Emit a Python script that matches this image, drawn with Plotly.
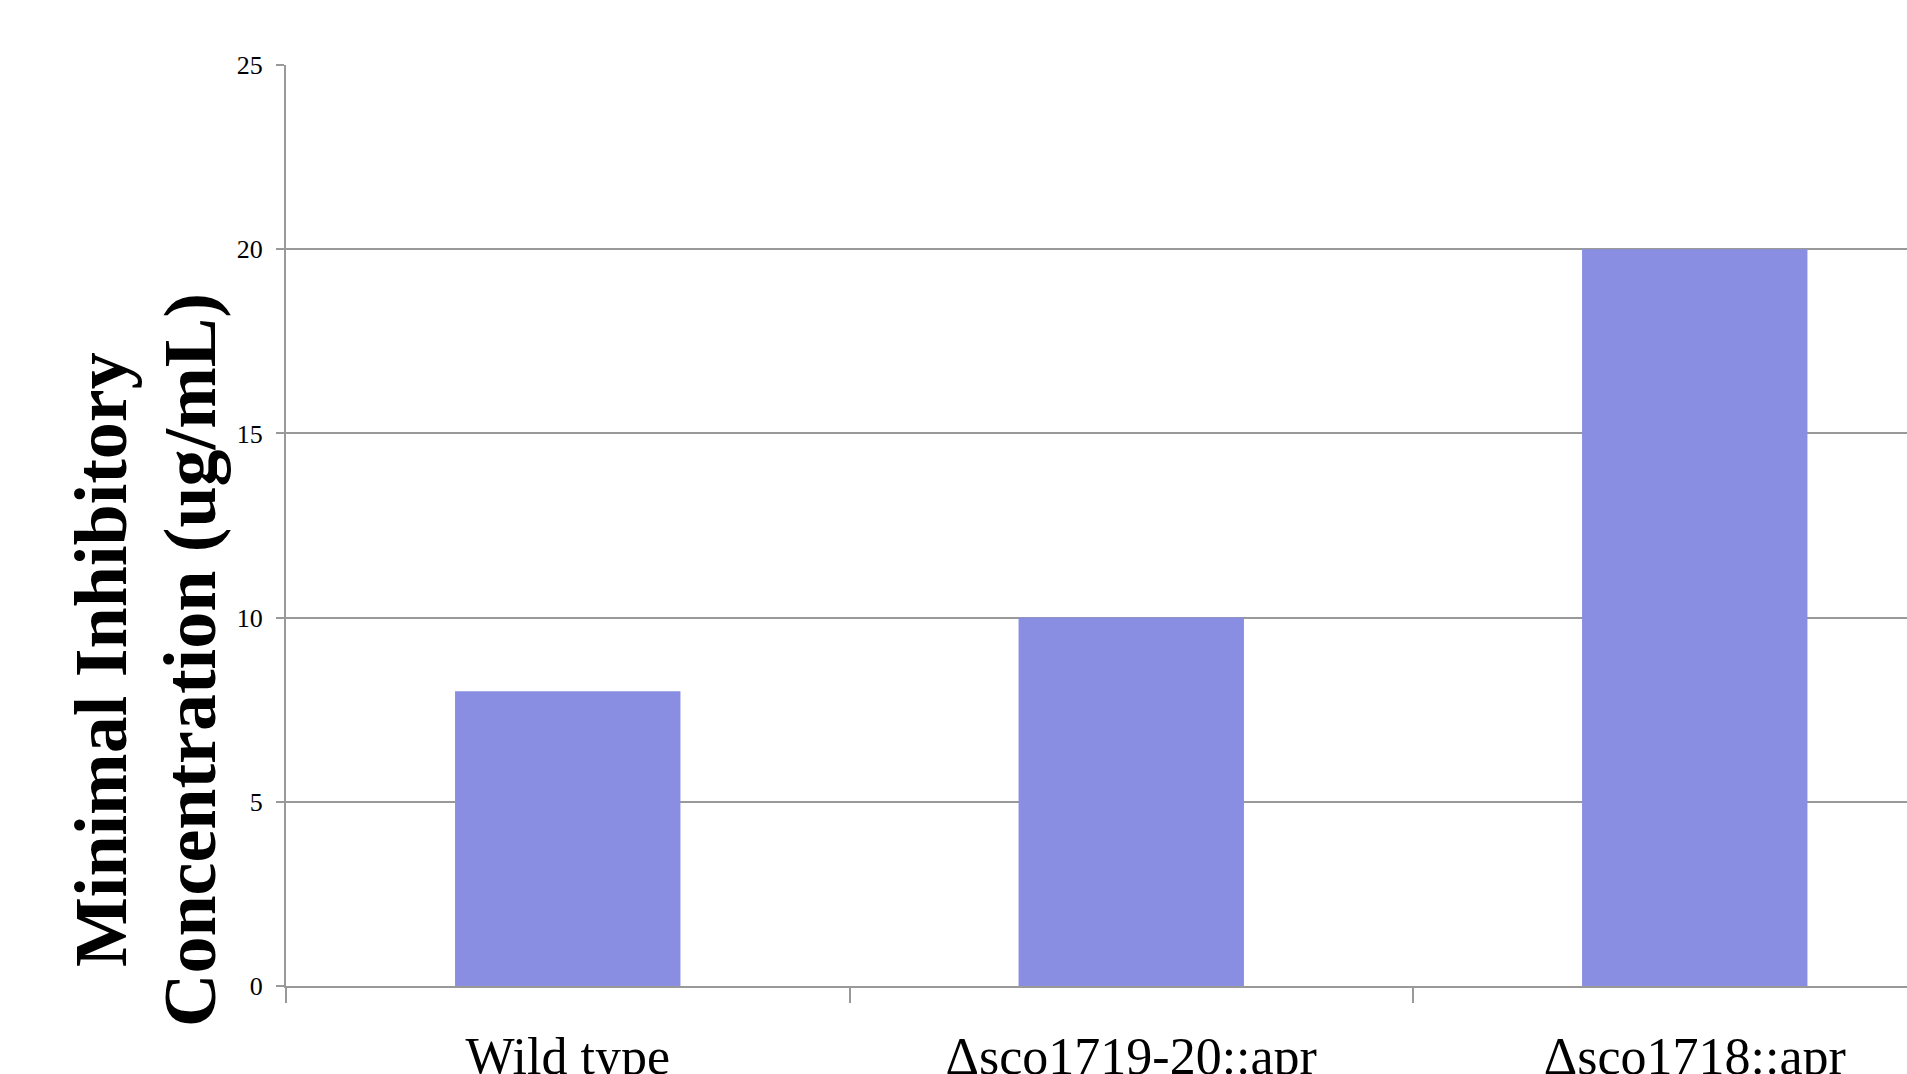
import plotly.graph_objects as go

categories = ["Wild type", "Δsco1719-20::apr", "Δsco1718::apr"]
mic_values = [8, 10, 20]
y_ticks = [0, 5, 10, 15, 20, 25]

W, H = 1907, 1074
L, R, T, B = 286, 0, 65, 88

fig = go.Figure()
fig.add_trace(go.Bar(
    x=categories, y=mic_values, width=0.4,
    marker=dict(color="#8A8EE3", line=dict(width=0)),
))

fig.update_layout(
    width=W, height=H,
    margin=dict(l=L, r=R, t=T, b=B, autoexpand=False),
    paper_bgcolor="white", plot_bgcolor="white",
    showlegend=False,
    font=dict(family="Liberation Serif, Times New Roman, serif", color="black"),
)
fig.update_xaxes(
    type="category",
    automargin=False,
    range=[-0.5, -0.5 + (W - L) / 563.5],
    tickson="boundaries",
    ticks="outside", ticklen=15, tickwidth=2, tickcolor="#999999",
    showline=True, linecolor="#999999", linewidth=2,
    showgrid=False,
    tickfont=dict(size=52, family="Liberation Serif, Times New Roman, serif", color="black"),
    ticklabelstandoff=24,
)
fig.update_yaxes(
    automargin=False,
    range=[0, 25],
    tickvals=y_ticks,
    ticks="outside", ticklen=8, tickwidth=2, tickcolor="#999999",
    showline=True, linecolor="#999999", linewidth=2,
    showgrid=True, gridcolor="#999999", gridwidth=2,
    zeroline=False,
    tickfont=dict(size=26, family="Liberation Serif, Times New Roman, serif", color="black"),
    ticklabelstandoff=8,
)

title_font = dict(size=74, family="Liberation Serif, Times New Roman, serif", color="black")
fig.add_annotation(
    text="<b>Minimal Inhibitory</b>", textangle=-90,
    xref="paper", yref="paper", x=0, y=0,
    xanchor="center", yanchor="middle",
    xshift=101 - L, yshift=(H - B) - 660,
    showarrow=False, font=title_font,
)
fig.add_annotation(
    text="<b>Concentration (ug/mL)</b>", textangle=-90,
    xref="paper", yref="paper", x=0, y=0,
    xanchor="center", yanchor="middle",
    xshift=190 - L, yshift=(H - B) - 660,
    showarrow=False, font=title_font,
)

fig.write_html(
    "out.html",
    config={"displayModeBar": False},
    post_script="document.body.style.margin='0';document.body.style.overflow='hidden';",
)
